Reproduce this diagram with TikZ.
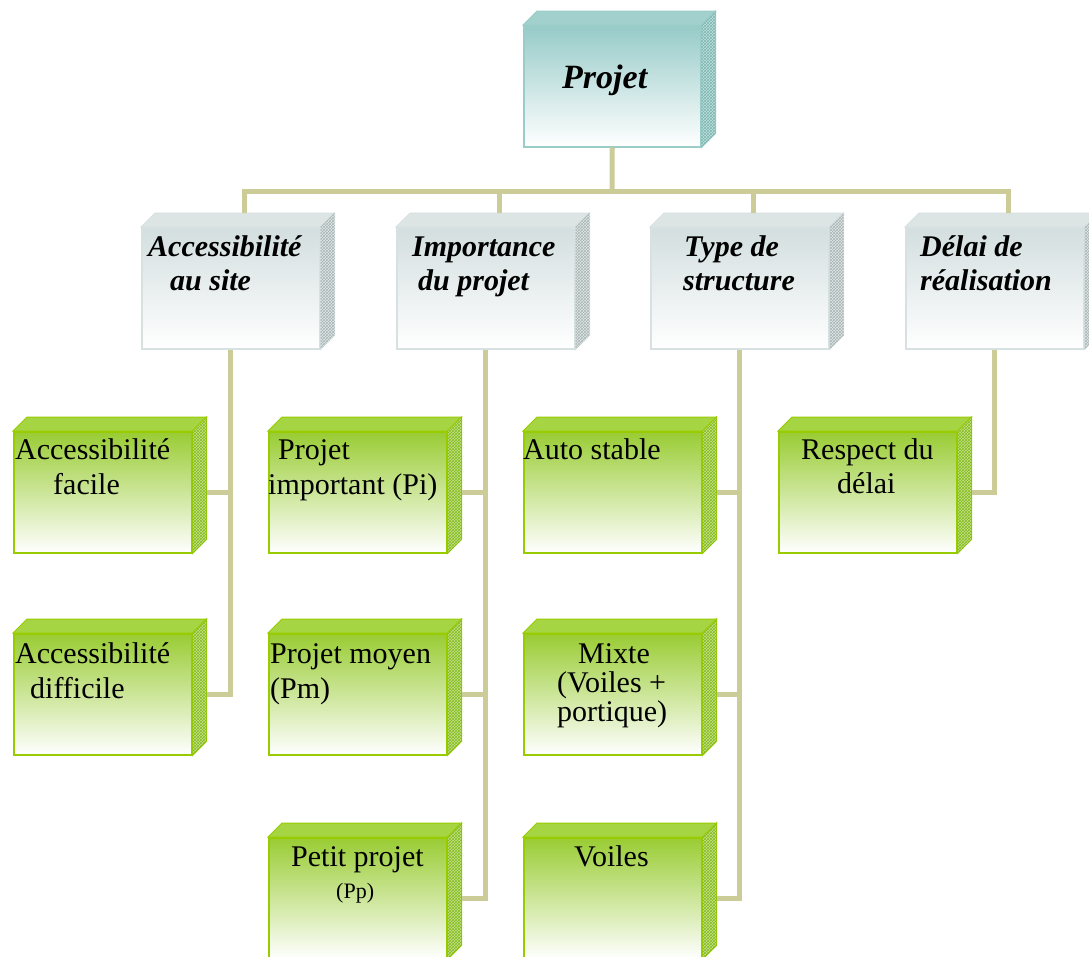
\documentclass[tikz,border=0pt]{standalone}
\usepackage{fontspec}
\setmainfont{Liberation Serif}
\usetikzlibrary{patterns,calc}

\definecolor{linkc}{HTML}{CCCC99}
% green boxes
\definecolor{gTop}{HTML}{99CC33}
\definecolor{gMid}{HTML}{D3E9B8}
\definecolor{gEdge}{HTML}{99CC00}
\definecolor{gLid}{HTML}{A6D544}
\definecolor{gSide}{HTML}{C4E38C}
\definecolor{gHatch}{HTML}{86BA1E}
% grey boxes
\definecolor{sTop}{HTML}{D3DEDF}
\definecolor{sMid}{HTML}{EAF0F0}
\definecolor{sEdge}{HTML}{D8E1E1}
\definecolor{sLid}{HTML}{DCE4E4}
\definecolor{sSide}{HTML}{E2E8E8}
\definecolor{sHatch}{HTML}{A8B4B4}
% teal box
\definecolor{tTop}{HTML}{96CBC8}
\definecolor{tMid}{HTML}{CFE6E4}
\definecolor{tEdge}{HTML}{9ACCC8}
\definecolor{tLid}{HTML}{A2D0CD}
\definecolor{tSide}{HTML}{BFE0DE}
\definecolor{tHatch}{HTML}{7FB6B2}

\tikzset{
  link/.style={draw=linkc, line width=5pt, line join=miter},
  frontgreen/.style={draw=gEdge, line width=1.5pt, minimum width=178pt, minimum height=121pt,
    inner sep=0pt, top color=gTop, middle color=gMid, bottom color=white},
  lidgreen/.style={fill=gLid, draw=gEdge, line width=1pt},
  sidegreen/.style={fill=gSide, draw=gEdge, line width=1pt,
    postaction={pattern=crosshatch, pattern color=gHatch}},
  frontgrey/.style={draw=sEdge, line width=1.5pt, minimum width=178pt, minimum height=121pt,
    inner sep=0pt, top color=sTop, middle color=sMid, bottom color=white},
  lidgrey/.style={fill=sLid, draw=sEdge, line width=1pt},
  sidegrey/.style={fill=sSide, draw=sEdge, line width=1pt,
    postaction={pattern=crosshatch, pattern color=sHatch}},
  frontteal/.style={draw=tEdge, line width=1.5pt, minimum width=177pt, minimum height=121pt,
    inner sep=0pt, top color=tTop, middle color=tMid, bottom color=white},
  lidteal/.style={fill=tLid, draw=tEdge, line width=1pt},
  sideteal/.style={fill=tSide, draw=tEdge, line width=1pt,
    postaction={pattern=crosshatch, pattern color=tHatch}},
  headtxt/.style={anchor=base west, inner sep=0pt, font=\fontsize{34}{40}\selectfont\bfseries\itshape},
  cattxt/.style={anchor=base west, inner sep=0pt, font=\fontsize{30}{34}\selectfont\bfseries\itshape},
  leaftxt/.style={anchor=base west, inner sep=0pt, font=\fontsize{30}{35}\selectfont},
  smalltxt/.style={anchor=base west, inner sep=0pt, font=\fontsize{22}{26}\selectfont},
}

% 3-D box: front face node #1 at top-left (#2,#3), colour set #4
\newcommand\cubebox[4]{%
  \node[front#4, anchor=north west] (#1) at (#2,#3) {};
  \path[lid#4] (#1.north west) -- ++(14,-14) -- ([shift={(14,-14)}]#1.north east)
     -- (#1.north east) -- cycle;
  \path[side#4] (#1.north east) -- ++(14,-14) -- ([shift={(14,-14)}]#1.south east)
     -- (#1.south east) -- cycle;
  \coordinate (#1-r) at ([xshift=14pt]#1.east);
  \coordinate (#1-t) at ([shift={(14,-14)}]#1.north);
}

\begin{document}
\begin{tikzpicture}[x=1pt, y=-1pt]
\useasboundingbox (0,0) rectangle (1089,956);

% root
\cubebox{proj}{523}{25}{teal}
% categories
\cubebox{acc}{141}{227}{grey}
\cubebox{imp}{396}{227}{grey}
\cubebox{typ}{650}{227}{grey}
\cubebox{del}{905}{227}{grey}
% leaves
\cubebox{af}{13}{431}{green}
\cubebox{ad}{13}{633}{green}
\cubebox{pi}{268}{431}{green}
\cubebox{pm}{268}{633}{green}
\cubebox{pp}{268}{837}{green}
\cubebox{as}{523}{431}{green}
\cubebox{mx}{523}{633}{green}
\cubebox{vo}{523}{837}{green}
\cubebox{rd}{778}{431}{green}

% connectors
\coordinate (bus) at (612,191);
\draw[link] (proj.south) -- (bus);
\draw[link] (acc-t) -- (acc-t |- bus) -- (del-t |- bus) -- (del-t);
\draw[link] (imp-t) -- (imp-t |- bus);
\draw[link] (typ-t) -- (typ-t |- bus);

\draw[link] (acc.south) |- (ad-r);
\draw[link] (af-r) -- (af-r -| acc.south);
\draw[link] (imp.south) |- (pp-r);
\draw[link] (pi-r) -- (pi-r -| imp.south);
\draw[link] (pm-r) -- (pm-r -| imp.south);
\draw[link] (typ.south) |- (vo-r);
\draw[link] (as-r) -- (as-r -| typ.south);
\draw[link] (mx-r) -- (mx-r -| typ.south);
\draw[link] (del.south) |- (rd-r);

% labels
\node[headtxt] (t-proj) at (562,88) {Projet};

\node[cattxt] (t-acc1) at (148,256) {Accessibilité};
\node[cattxt] (t-acc2) at (170,290) {au site};
\node[cattxt] (t-imp1) at (412,256) {Importance};
\node[cattxt] (t-imp2) at (418,290) {du projet};
\node[cattxt] (t-typ1) at (684,256) {Type de};
\node[cattxt] (t-typ2) at (683,290) {structure};
\node[cattxt] (t-del1) at (920,256) {Délai de};
\node[cattxt] (t-del2) at (920,290) {réalisation};

\node[leaftxt] (t-af1) at (15,459) {Accessibilité};
\node[leaftxt] (t-af2) at (53,494) {facile};
\node[leaftxt] (t-ad1) at (15,663) {Accessibilité};
\node[leaftxt] (t-ad2) at (30,698) {difficile};
\node[leaftxt] (t-pi1) at (278,459) {Projet};
\node[leaftxt] (t-pi2) at (268,494) {important (Pi)};
\node[leaftxt] (t-pm1) at (270,663) {Projet moyen};
\node[leaftxt] (t-pm2) at (270,698) {(Pm)};
\node[leaftxt] (t-pp1) at (291,866) {Petit projet};
\node[smalltxt] (t-pp2) at (336,898) {(Pp)};
\node[leaftxt] (t-as) at (523,459) {Auto stable};
\node[leaftxt] (t-mx1) at (578,663) {Mixte};
\node[leaftxt] (t-mx2) at (557,692) {(Voiles +};
\node[leaftxt] (t-mx3) at (557,721) {portique)};
\node[leaftxt] (t-vo) at (574,866) {Voiles};
\node[leaftxt] (t-rd1) at (801,459) {Respect du};
\node[leaftxt] (t-rd2) at (837,493) {délai};
\end{tikzpicture}
\end{document}
